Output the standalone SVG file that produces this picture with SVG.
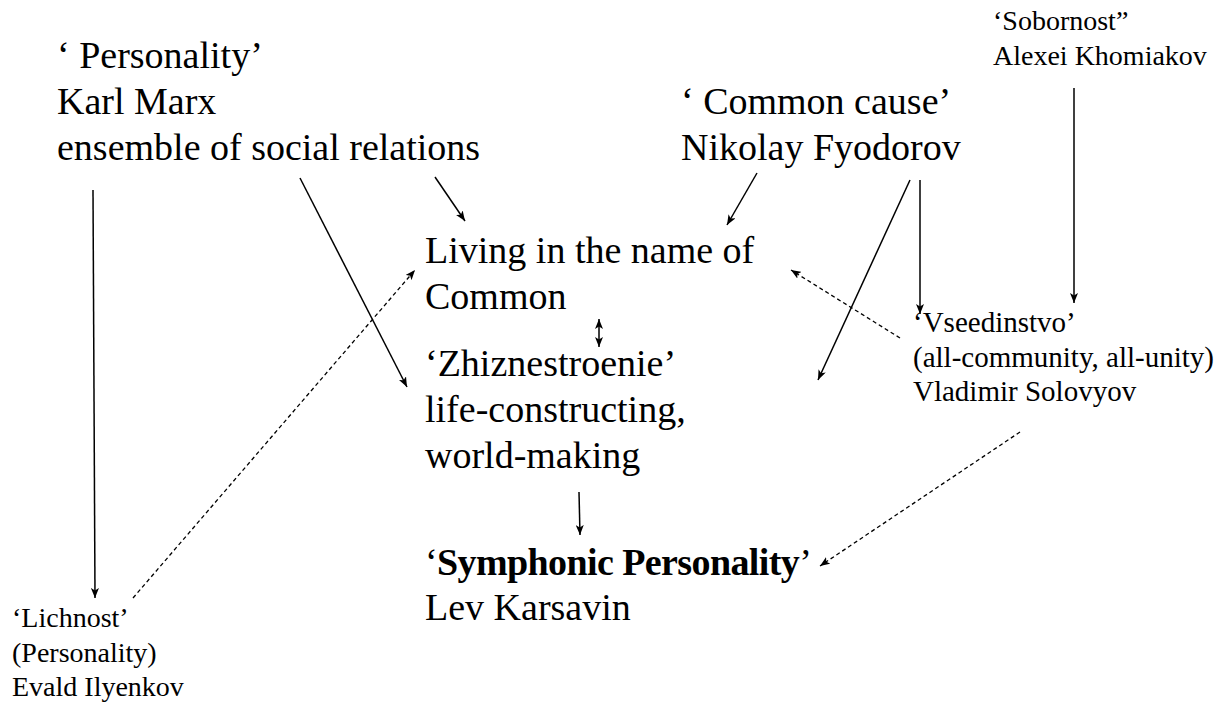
<svg xmlns="http://www.w3.org/2000/svg" width="1221" height="709" viewBox="0 0 1221 709">
<style>
.big{font-family:"Liberation Serif","DejaVu Serif",serif;font-size:38px;fill:#000}
.sm{font-family:"Liberation Serif","DejaVu Serif",serif;font-size:28px;fill:#000}
.sm2{font-family:"Liberation Serif","DejaVu Serif",serif;font-size:29px;fill:#000}
.b{font-weight:bold}
.tight{letter-spacing:-0.6px}
.c{stroke:#000;stroke-width:1.5;fill:none}
.d{stroke:#000;stroke-width:1.3;fill:none;stroke-dasharray:4 3}
</style>
<defs>
<marker id="ah" viewBox="0 0 10 8" refX="10" refY="4" markerWidth="10" markerHeight="8" orient="auto-start-reverse" markerUnits="userSpaceOnUse">
<path d="M0,0 L10,4 L0,8 L2.5,4 z" fill="#000"/>
</marker>
</defs>
<rect width="1221" height="709" fill="#fff"/>
<g id="marx">
<text class="big" x="57" y="68">‘ Personality’</text>
<text class="big" x="57" y="114">Karl Marx</text>
<text class="big" x="57" y="160">ensemble of social relations</text>
</g>
<g id="fyodorov">
<text class="big" x="681" y="114">‘ Common cause’</text>
<text class="big" x="681" y="160">Nikolay Fyodorov</text>
</g>
<g id="khomiakov">
<text class="sm" x="993" y="30">‘Sobornost”</text>
<text class="sm" x="993" y="65">Alexei Khomiakov</text>
</g>
<g id="living">
<text class="big" x="425" y="263">Living in the name of</text>
<text class="big" x="425" y="309">Common</text>
</g>
<g id="zhiznestroenie">
<text class="big" x="425" y="376">‘Zhiznestroenie’</text>
<text class="big" x="425" y="422">life-constructing,</text>
<text class="big" x="425" y="468">world-making</text>
</g>
<g id="solovyov">
<text class="sm2" x="913" y="332">‘Vseedinstvo’</text>
<text class="sm2" x="913" y="367">(all-community, all-unity)</text>
<text class="sm2" x="913" y="401">Vladimir Solovyov</text>
</g>
<g id="ilyenkov">
<text class="sm" x="12" y="627">‘Lichnost’</text>
<text class="sm" x="12" y="662">(Personality)</text>
<text class="sm" x="12" y="696">Evald Ilyenkov</text>
</g>
<g id="karsavin">
<text class="big tight" x="425" y="575">‘<tspan class="b">Symphonic Personality</tspan>’</text>
<text class="big" x="425" y="620">Lev Karsavin</text>
</g>
<g id="connectors">
<line class="c" x1="93" y1="190" x2="95" y2="598" marker-end="url(#ah)"/>
<line class="c" x1="300" y1="178" x2="407" y2="387" marker-end="url(#ah)"/>
<line class="c" x1="435" y1="177" x2="465" y2="221" marker-end="url(#ah)"/>
<line class="c" x1="757" y1="173" x2="727" y2="225" marker-end="url(#ah)"/>
<line class="c" x1="920" y1="180" x2="920" y2="314" marker-end="url(#ah)"/>
<line class="c" x1="910" y1="180" x2="818" y2="380" marker-end="url(#ah)"/>
<line class="c" x1="1074" y1="88" x2="1074" y2="303" marker-end="url(#ah)"/>
<line class="d" x1="900" y1="338" x2="791" y2="270" marker-end="url(#ah)"/>
<line class="d" x1="133" y1="598" x2="415" y2="270" marker-end="url(#ah)"/>
<line class="c" x1="599" y1="319" x2="599" y2="347" marker-start="url(#ah)" marker-end="url(#ah)"/>
<line class="c" x1="579" y1="492" x2="580" y2="535" marker-end="url(#ah)"/>
<line class="d" x1="1020" y1="432" x2="820" y2="566" marker-end="url(#ah)"/>
</g>
</svg>
